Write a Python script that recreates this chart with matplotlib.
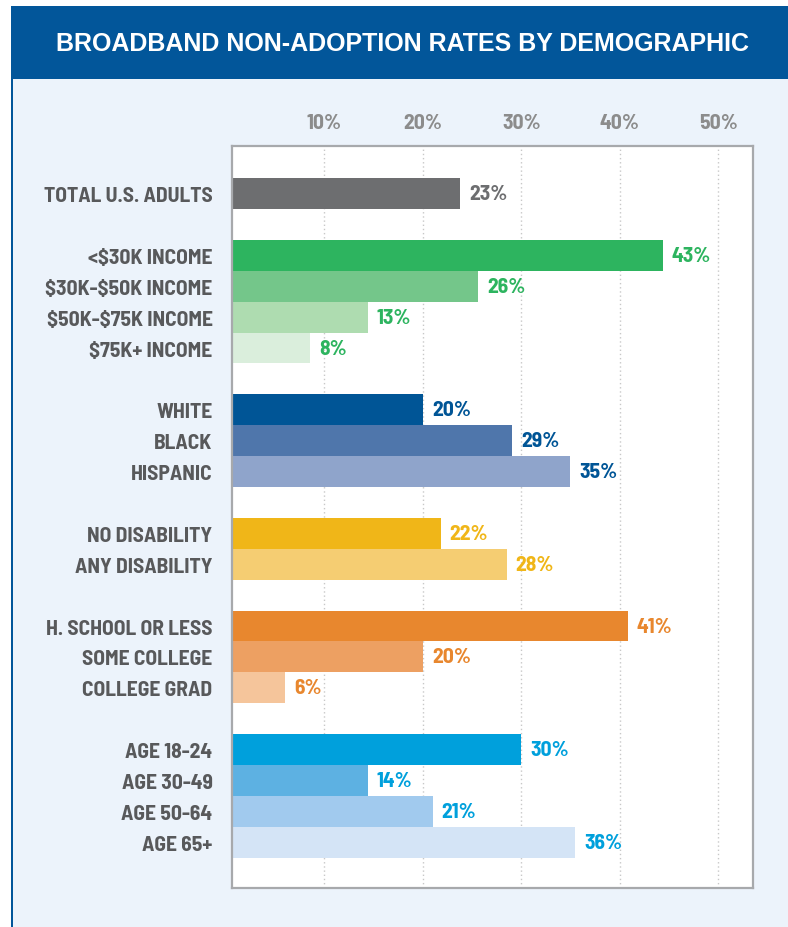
import matplotlib
matplotlib.use("Agg")
import matplotlib.pyplot as plt
from matplotlib.patches import Rectangle

# Categories, top to bottom, with the row each one sits on (gaps between groups)
categories = [
    "TOTAL U.S. ADULTS",
    r"<\$30K INCOME", r"\$30K-\$50K INCOME", r"\$50K-\$75K INCOME", r"\$75K+ INCOME",
    "WHITE", "BLACK", "HISPANIC",
    "NO DISABILITY", "ANY DISABILITY",
    "H. SCHOOL OR LESS", "SOME COLLEGE", "COLLEGE GRAD",
    "AGE 18-24", "AGE 30-49", "AGE 50-64", "AGE 65+",
]
rows = [0, 2, 3, 4, 5, 7, 8, 9, 11, 12, 14, 15, 16, 18, 19, 20, 21]

# Bar lengths as drawn in the picture, and the printed labels
bar_values = [23.8, 44.4, 25.6, 14.4, 8.5, 20.0, 29.1, 35.0, 21.8, 28.5,
              40.8, 20.0, 6.0, 30.0, 14.4, 21.0, 35.5]
value_labels = ["23%", "43%", "26%", "13%", "8%", "20%", "29%", "35%", "22%",
                "28%", "41%", "20%", "6%", "30%", "14%", "21%", "36%"]

bar_colors = ["#6d6e70",
              "#2db45f", "#74c68a", "#aedcb0", "#daeedc",
              "#005596", "#4f76ab", "#8fa4cb",
              "#f0b618", "#f5cd72",
              "#e8872e", "#eda062", "#f5c59b",
              "#00a0dc", "#5db1e2", "#a1caee", "#d4e4f6"]
text_colors = ["#6d6e70",
               "#2db45f", "#2db45f", "#2db45f", "#2db45f",
               "#005596", "#005596", "#005596",
               "#f0b618", "#f0b618",
               "#e8872e", "#e8872e", "#e8872e",
               "#00a0dc", "#00a0dc", "#00a0dc", "#00a0dc"]

tick_values = [10, 20, 30, 40, 50]
tick_labels = ["10%", "20%", "30%", "40%", "50%"]

title = "BROADBAND NON-ADOPTION RATES BY DEMOGRAPHIC"

W, H = 788, 928
lab_font = dict(family=["Barlow Semi Condensed", "Barlow Condensed", "DejaVu Sans"],
                fontsize=15.5, fontweight="bold")

fig = plt.figure(figsize=(W / 100, H / 100), dpi=100)
fig.patch.set_facecolor("white")

# light panel, left rule and title banner
fig.patches.append(Rectangle((11 / W, 0), 1, 1 - 80 / H, transform=fig.transFigure,
                             facecolor="#ecf3fb", edgecolor="none", zorder=-10))
fig.patches.append(Rectangle((11 / W, 0), 2 / W, 1 - 80 / H, transform=fig.transFigure,
                             facecolor="#02569a", edgecolor="none", zorder=-9))
fig.patches.append(Rectangle((11 / W, 1 - 80 / H), 1, 73 / H, transform=fig.transFigure,
                             facecolor="#02569a", edgecolor="none", zorder=-9))
fig.text(402 / W, 1 - 44 / H, title, color="white", fontsize=18, fontweight="bold",
         family="Liberation Sans", ha="center", va="center")

ax = fig.add_axes([232 / W, 1 - 889 / H, (752.5 - 232) / W, (889 - 147) / H])
ax.set_facecolor("white")

ax.barh(rows, bar_values, height=1.0, color=bar_colors, zorder=2)

for r, v, lab, c in zip(rows, bar_values, value_labels, text_colors):
    ax.annotate(lab, (v, r), xytext=(6.5, 0), textcoords="offset points",
                ha="left", va="center", color=c, **lab_font)

ax.set_xlim(0.6, 53.5)
ax.set_ylim(22.48, -1.54)

ax.set_yticks(rows)
ax.set_yticklabels(categories, color="#58595b", **lab_font)
ax.xaxis.tick_top()
ax.set_xticks(tick_values)
ax.set_xticklabels(tick_labels, color="#8c8c8c", **lab_font)
ax.tick_params(axis="y", length=0, pad=14)
ax.tick_params(axis="x", length=0, pad=10)

ax.grid(axis="x", color="#c8c8c8", linestyle=(0, (1, 2)), linewidth=1, zorder=1)
ax.set_axisbelow(True)
for s in ax.spines.values():
    s.set_color("#a7a9ac")
    s.set_linewidth(1.6)

fig.savefig("out.png", dpi=100, facecolor=fig.get_facecolor())
